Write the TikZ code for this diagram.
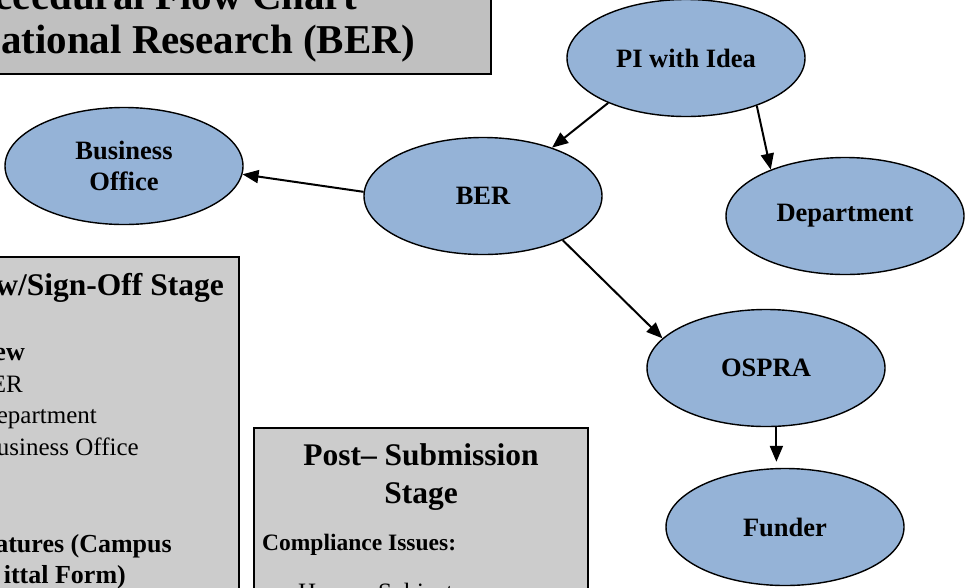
\documentclass[tikz,border=0pt]{standalone}
\usepackage{fontspec}
\setmainfont{Liberation Serif}
\usetikzlibrary{arrows.meta,shapes.geometric}
\definecolor{ovalblue}{HTML}{95B3D7}
\definecolor{titlegray}{HTML}{C0C0C0}
\definecolor{boxgray}{HTML}{CCCCCC}
\tikzset{
  oval_/.style  = {shape=ellipse, draw, fill=ovalblue, line width=1.4pt,
                   minimum width=238pt, minimum height=117pt, inner sep=0pt,
                   align=center, font=\bfseries\fontsize{26.5}{31}\selectfont},
  panel_/.style = {draw, line width=1.6pt, fill=boxgray},
  head_/.style  = {inner sep=0pt, font=\bfseries\fontsize{31.5}{37}\selectfont},
  item_/.style  = {inner sep=0pt, font=\fontsize{25}{32}\selectfont},
  bitem_/.style = {inner sep=0pt, font=\bfseries\fontsize{26}{32}\selectfont}
}

\begin{document}
\begin{tikzpicture}
		[
		x                = 1pt,
		y                = -1pt,
		flow_/.style     = {draw, line width=2pt, -{Triangle[length=16pt,width=13pt]}},
		title_/.style    = {inner sep=0pt, anchor=base east, font=\bfseries\fontsize{41}{46}\selectfont}
		]
		\useasboundingbox (0,0) rectangle (965,587);
		\clip (0,0) rectangle (965,587);
		% title panel
		\draw [panel_, fill=titlegray, line width=2pt] (-20,-20) rectangle (491,74);
		\node [title_] (title1) at (357,9) {ceedural Flow Chart};
		\node [title_] (title2) at (415,53) {ational Research (BER)};
		% sign-off panel
		\draw [panel_] (-20,257) rectangle (239,620);
		\node [head_, anchor=base east] (signhead) at (224,295) {w/Sign-Off Stage};
		\node [bitem_, anchor=base east] (review) at (25,360) {ew};
		\node [item_, anchor=base east] (itember) at (23,392) {ER};
		\node [item_, anchor=base east] (itemdept) at (97,423) {epartment};
		\node [item_, anchor=base east] (itembiz) at (139,455) {usiness Office};
		\node [bitem_, anchor=base east] (sign1) at (172,552) {atures (Campus};
		\node [bitem_, anchor=base east] (sign2) at (126,583) {ittal Form)};
		% post-submission panel
		\draw [panel_] (254,428) rectangle (588,620);
		\node [head_, anchor=base] (posthead) at (421,465) {Post-- Submission};
		\node [head_, anchor=base] (poststage) at (421,503) {Stage};
		\node [bitem_, anchor=base west, font=\bfseries\fontsize{23.5}{32}\selectfont] (comply) at (262,550) {Compliance Issues:};
		\node [item_, anchor=base west] (human) at (298,600) {Human Subjects};
		% flow
		\node [oval_] (pi) at (686,58) {PI with Idea};
		\node [oval_] (dept) at (845,216) {Department};
		\node [oval_] (ber) at (483,196) {BER};
		\node [oval_] (biz) at (124,166) {Business\\Office};
		\node [oval_] (ospra) at (766,368) {OSPRA};
		\node [oval_] (funder) at (785,527) {Funder};
		\coordinate (fundtop) at ([yshift=6pt]funder.north);
		\draw [flow_] (pi.210) -- (ber.35);
		\draw [flow_] (pi.326) -- (dept.148);
		\draw [flow_] (ber.178) -- (biz.356);
		\draw [flow_] (ber.331) -- (ospra.164);
		\draw [flow_] (ospra.280) -- (ospra.280 |- fundtop);
\end{tikzpicture}
\end{document}
